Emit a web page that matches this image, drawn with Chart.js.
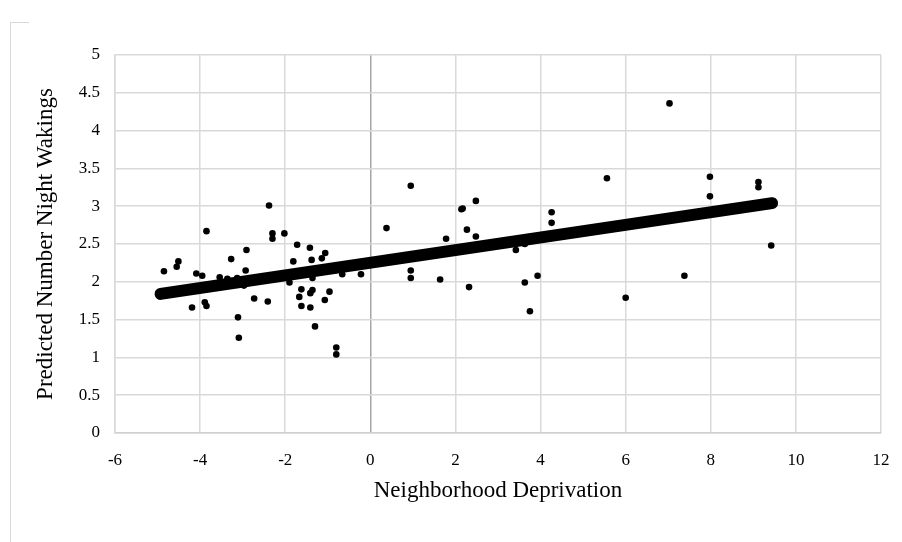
<!DOCTYPE html>
<html lang="en">
<head>
    <meta charset="UTF-8">
    <title>Night Wakings</title>
    <script src="https://cdn.jsdelivr.net/npm/chart.js"></script>
    <style>
        body {
            margin: 0;
            padding: 0;
            background: #fff;
        }
        .wrap {
            position: relative;
            width: 902px;
            height: 542px;
        }
        .frame {
            position: absolute;
            left: 10px;
            top: 22px;
            width: 18px;
            height: 520px;
            border-left: 1px solid #d9d9d9;
            border-top: 1px solid #d9d9d9;
        }
    </style>
</head>
<body>
    <div class="wrap">
        <div class="frame"></div>
        <canvas id="scatterChart" width="902" height="542"></canvas>
    </div>

    <script>
        // observed points (deprivation, predicted wakings)
        const deprivation = [
            -4.85, -4.55, -4.51, -3.85, -4.19, -4.09, -3.95, -3.89, -3.85, -3.54,
            -3.36, -3.27, -3.13, -3.11, -3.09, -2.97, -2.93, -2.91, -2.73, -2.41,
            -2.38, -2.30, -2.30, -2.02, -1.90, -1.81, -1.72, -1.62, -1.67, -1.62,
            -1.42, -1.38, -1.36, -1.41, -1.36, -1.41, -1.30, -1.14, -1.06, -1.07,
            -0.96, -0.80, -0.80, -0.66, -0.22,
            0.38, 0.95, 0.95, 0.95, 1.64, 1.78, 2.14, 2.17, 2.27, 2.32,
            2.48, 2.48, 3.42, 3.63, 3.63, 3.75, 3.93, 4.26, 4.26, 5.56,
            6.00, 7.03, 7.38, 7.98, 7.98, 9.12, 9.12, 9.42
        ];
        const wakings = [
            2.14, 2.20, 2.27, 2.67, 1.66, 2.11, 2.08, 1.73, 1.68, 2.06,
            2.04, 2.30, 2.05, 1.53, 1.26, 1.95, 2.15, 2.42, 1.78, 1.74,
            3.01, 2.64, 2.57, 2.64, 1.99, 2.27, 2.49, 1.90, 1.80, 1.68,
            2.45, 2.29, 2.05, 1.85, 1.89, 1.66, 1.41, 2.31, 2.38, 1.76,
            1.87, 1.13, 1.04, 2.10, 2.10,
            2.71, 3.27, 2.15, 2.05, 2.03, 2.57, 2.96, 2.97, 2.69, 1.93,
            3.07, 2.60, 2.42, 2.50, 1.99, 1.61, 2.08, 2.92, 2.78, 3.37,
            1.79, 4.36, 2.08, 3.39, 3.13, 3.32, 3.25, 2.48
        ];

        // fitted line ends
        const fitX = [-4.93, 9.44];
        const fitY = [1.84, 3.04];

        const serif = "'Liberation Serif', 'Times New Roman', serif";

        const points = deprivation.map((x, i) => ({x: x, y: wakings[i]}));
        const fitLine = fitX.map((x, i) => ({x: x, y: fitY[i]}));

        const ctx = document.getElementById('scatterChart').getContext('2d');
        new Chart(ctx, {
            type: 'scatter',
            data: {
                datasets: [
                    {
                        type: 'line',
                        data: fitLine,
                        borderColor: '#000',
                        borderWidth: 12,
                        borderCapStyle: 'round',
                        pointRadius: 0,
                        fill: false
                    },
                    {
                        data: points,
                        backgroundColor: '#000',
                        borderColor: '#000',
                        pointRadius: 3.3,
                        borderWidth: 0
                    }
                ]
            },
            options: {
                responsive: false,
                animation: false,
                layout: {
                    padding: {left: 0, top: 55, right: 21, bottom: 0}
                },
                plugins: {
                    legend: {display: false},
                    tooltip: {enabled: false}
                },
                scales: {
                    x: {
                        type: 'linear',
                        min: -6,
                        max: 12,
                        afterFit: function(scale) {
                            scale.height = 109;
                            scale.paddingLeft = 0;
                            scale.paddingRight = 0;
                        },
                        ticks: {
                            stepSize: 2,
                            padding: 17,
                            color: '#000',
                            font: {family: serif, size: 17}
                        },
                        grid: {
                            drawTicks: false,
                            lineWidth: 1.5,
                            color: function(c) {
                                return c.tick && c.tick.value === 0 ? '#a6a6a6' : '#d9d9d9';
                            }
                        },
                        border: {color: '#d0d0d0', width: 1.5},
                        title: {
                            display: true,
                            text: 'Neighborhood Deprivation',
                            color: '#000',
                            font: {family: serif, size: 23},
                            padding: {top: 0, bottom: 37}
                        }
                    },
                    y: {
                        min: 0,
                        max: 5,
                        afterFit: function(scale) {
                            scale.width = 115;
                            scale.paddingTop = 0;
                            scale.paddingBottom = 0;
                        },
                        ticks: {
                            stepSize: 0.5,
                            padding: 15,
                            color: '#000',
                            font: {family: serif, size: 17},
                            callback: function(v) { return String(v); }
                        },
                        grid: {
                            drawTicks: false,
                            lineWidth: 1.5,
                            color: '#d9d9d9'
                        },
                        border: {color: '#d9d9d9', width: 1.5},
                        title: {
                            display: true,
                            text: 'Predicted Number Night Wakings',
                            color: '#000',
                            font: {family: serif, size: 23},
                            padding: {top: 32, bottom: 0}
                        }
                    }
                }
            }
        });
    </script>
</body>
</html>
